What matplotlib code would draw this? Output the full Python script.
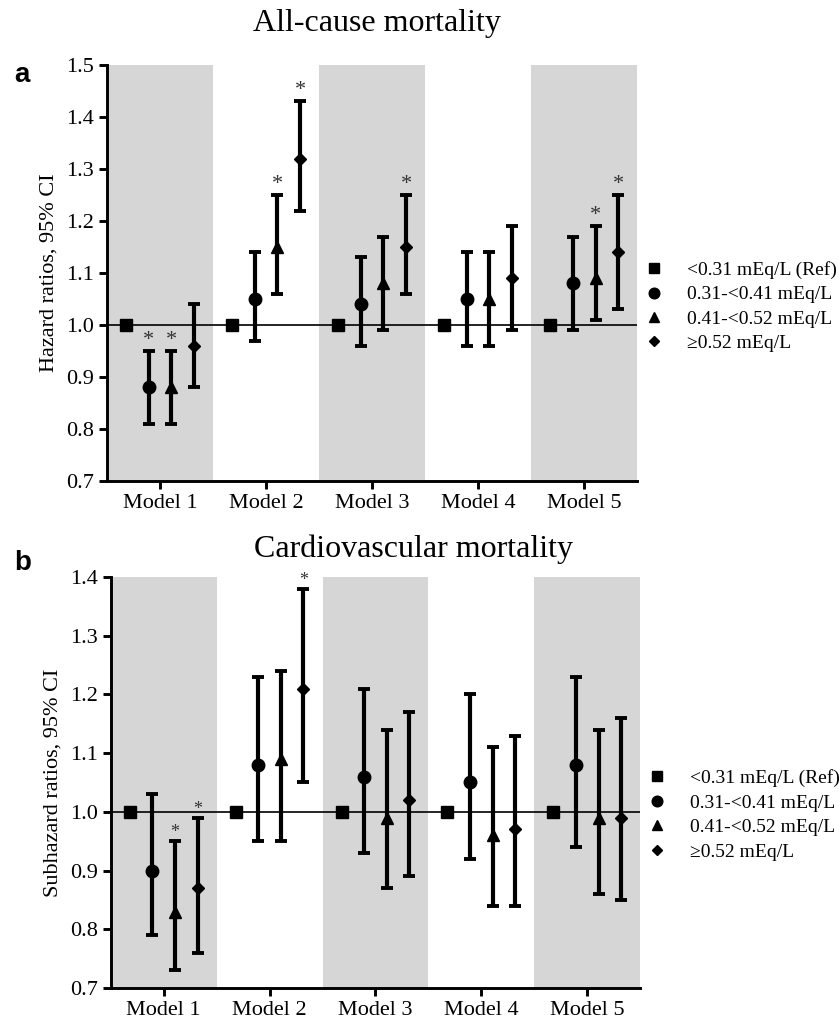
import matplotlib
matplotlib.use("Agg")
import matplotlib.pyplot as plt
import numpy as np

plt.rcParams['font.family'] = ['Liberation Serif', 'DejaVu Serif']

models = ["Model 1", "Model 2", "Model 3", "Model 4", "Model 5"]
groups = ["<0.31 mEq/L (Ref)", "0.31-<0.41 mEq/L", "0.41-<0.52 mEq/L", "≥0.52 mEq/L"]
markers = ["s", "o", "^", "D"]
msizes = [9, 9, 8.5, 6]

# Panel a: all-cause mortality (HR, lower, upper, significant)
a_est = {
    "ref":  [1.00, 1.00, 1.00, 1.00, 1.00],
    "g2":   [0.88, 1.05, 1.04, 1.05, 1.08],
    "g3":   [0.88, 1.15, 1.08, 1.05, 1.09],
    "g4":   [0.96, 1.32, 1.15, 1.09, 1.14],
}
a_low = {
    "g2": [0.81, 0.97, 0.96, 0.96, 0.99],
    "g3": [0.81, 1.06, 0.99, 0.96, 1.01],
    "g4": [0.88, 1.22, 1.06, 0.99, 1.03],
}
a_up = {
    "g2": [0.95, 1.14, 1.13, 1.14, 1.17],
    "g3": [0.95, 1.25, 1.17, 1.14, 1.19],
    "g4": [1.04, 1.43, 1.25, 1.19, 1.25],
}
a_sig = {
    "g2": [True, False, False, False, False],
    "g3": [True, True, False, False, True],
    "g4": [False, True, True, False, True],
}

# Panel b: cardiovascular mortality (SHR)
b_est = {
    "ref":  [1.00, 1.00, 1.00, 1.00, 1.00],
    "g2":   [0.90, 1.08, 1.06, 1.05, 1.08],
    "g3":   [0.83, 1.09, 0.99, 0.96, 0.99],
    "g4":   [0.87, 1.21, 1.02, 0.97, 0.99],
}
b_low = {
    "g2": [0.79, 0.95, 0.93, 0.92, 0.94],
    "g3": [0.73, 0.95, 0.87, 0.84, 0.86],
    "g4": [0.76, 1.05, 0.89, 0.84, 0.85],
}
b_up = {
    "g2": [1.03, 1.23, 1.21, 1.20, 1.23],
    "g3": [0.95, 1.24, 1.14, 1.11, 1.14],
    "g4": [0.99, 1.38, 1.17, 1.13, 1.16],
}
b_sig = {
    "g2": [False, False, False, False, False],
    "g3": [True, False, False, False, False],
    "g4": [True, True, False, False, False],
}

offsets = [-0.32, -0.107, 0.107, 0.32]
keys = ["ref", "g2", "g3", "g4"]

fig = plt.figure(figsize=(8.39, 10.30), dpi=100)
ax_a = fig.add_axes([0.1275, 0.533, 0.632, 0.404])
ax_b = fig.add_axes([0.132, 0.0408, 0.631, 0.399])


def draw(ax, est, low, up, sig, ylim, yticks, ylabel, star_size, star_off, leg_y):
    x = np.arange(1, len(models) + 1)
    for i in range(len(models)):
        if i % 2 == 0:
            ax.axvspan(x[i] - 0.5, x[i] + 0.5, color='#d6d6d6', lw=0, zorder=0)
    ax.axhline(1.0, color='black', lw=1.2, zorder=1)
    handles = []
    for k, key in enumerate(keys):
        xs = x + offsets[k]
        ys = np.array(est[key])
        if key != "ref":
            lo = ys - np.array(low[key])
            hi = np.array(up[key]) - ys
            ax.errorbar(xs, ys, yerr=[lo, hi], fmt='none', ecolor='black',
                        elinewidth=3.0, capsize=4.0, capthick=2.8, zorder=2)
            for j in range(len(models)):
                if sig[key][j]:
                    ax.text(xs[j], up[key][j] + star_off, "*", ha='center',
                            va='bottom', fontsize=star_size, color='#333333')
        h = ax.plot(xs, ys, ls='none', marker=markers[k], ms=msizes[k],
                    color='black', zorder=3)[0]
        handles.append(h)
    ax.set_xlim(0.5, len(models) + 0.5)
    ax.set_ylim(*ylim)
    ax.set_yticks(yticks)
    ax.set_yticklabels([f"{t:.1f}" for t in yticks])
    ax.set_xticks(x)
    ax.set_xticklabels(models)
    ax.set_ylabel(ylabel, fontsize=16, labelpad=5)
    for s in ['top', 'right']:
        ax.spines[s].set_visible(False)
    for s in ['left', 'bottom']:
        ax.spines[s].set_linewidth(2.1)
    ax.tick_params(axis='both', which='major', labelsize=16, width=2.1,
                   length=6, direction='out', color='black')
    ax.legend(handles, groups, loc='center left', bbox_to_anchor=(1.013, leg_y),
              frameon=False, fontsize=14, handlelength=1.0, handletextpad=1.2,
              labelspacing=0.35, borderaxespad=0, borderpad=0, numpoints=1,
              markerscale=0.85)


draw(ax_a, a_est, a_low, a_up, a_sig, (0.7, 1.5),
     [0.7, 0.8, 0.9, 1.0, 1.1, 1.2, 1.3, 1.4, 1.5],
     "Hazard ratios, 95% CI", 16, 0.002, 0.419)
draw(ax_b, b_est, b_low, b_up, b_sig, (0.7, 1.4),
     [0.7, 0.8, 0.9, 1.0, 1.1, 1.2, 1.3, 1.4],
     "Subhazard ratios, 95% CI", 13, 0.0, 0.421)

fig.text(377 / 839, 1 - 24 / 1030, "All-cause mortality", ha='center', va='center', fontsize=23)
fig.text(413 / 839, 1 - 549 / 1030, "Cardiovascular mortality", ha='center', va='center', fontsize=23)
fig.text(22 / 839, 1 - 75 / 1030, "a", ha='center', va='center', fontsize=20,
         fontweight='bold', family=['Liberation Sans', 'DejaVu Sans'])
fig.text(23 / 839, 1 - 563 / 1030, "b", ha='center', va='center', fontsize=20,
         fontweight='bold', family=['Liberation Sans', 'DejaVu Sans'])

fig.savefig("out.png", dpi=100)
